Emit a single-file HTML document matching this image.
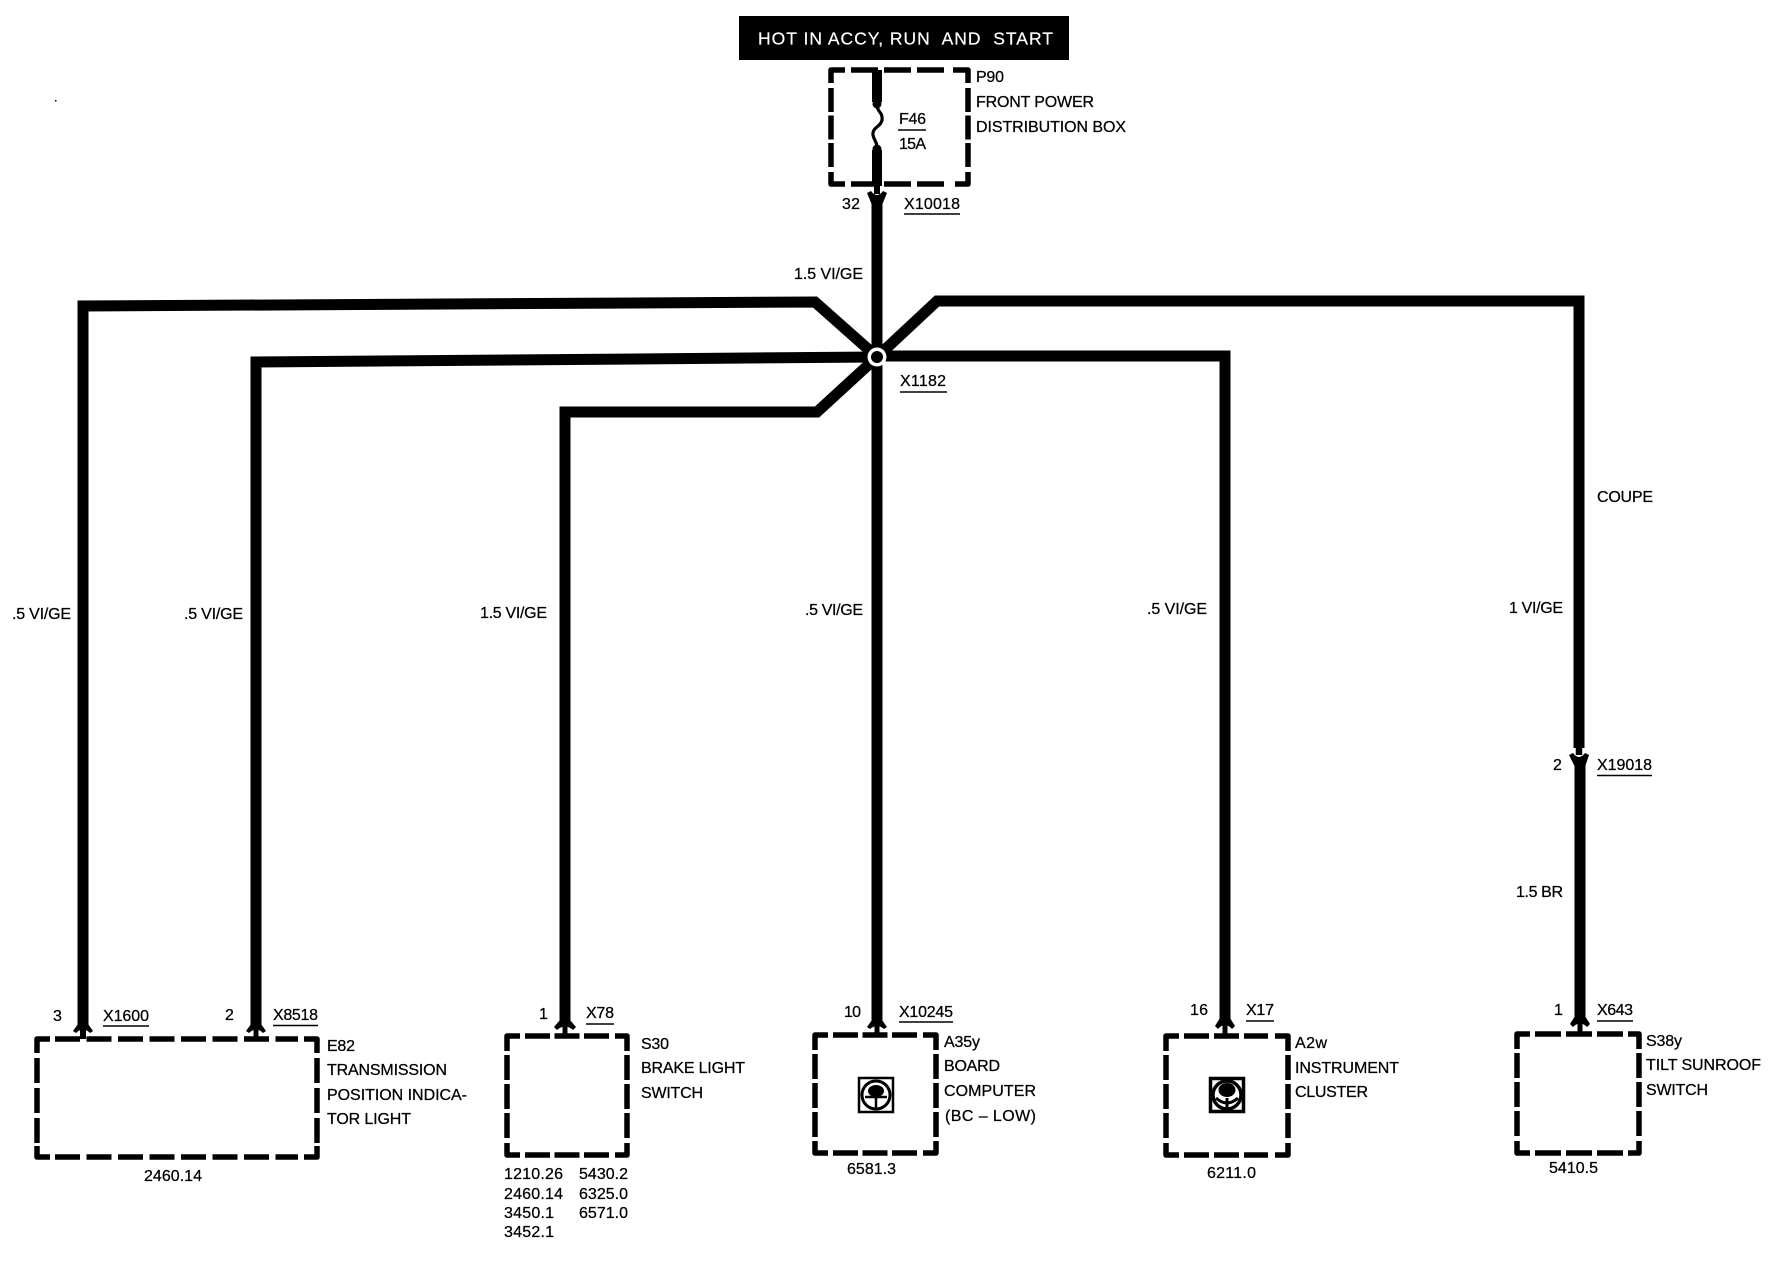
<!DOCTYPE html>
<html lang="en">
<head>
<meta charset="utf-8">
<title>Wiring diagram</title>
<style>
html,body{margin:0;padding:0;background:#fff}
svg{display:block}
text{font-family:"Liberation Sans",Arial,sans-serif;font-size:16px;fill:#000;stroke:#000;stroke-width:.25;white-space:pre;transform:translateY(-1px)}
.w{fill:none;stroke:#000;stroke-width:11;stroke-linejoin:miter}
.c{fill:none;stroke:#000;stroke-width:5.5;stroke-linejoin:round}
.u{stroke:#000;stroke-width:1.6}
</style>
</head>
<body>
<svg xmlns="http://www.w3.org/2000/svg" width="1792" height="1264" viewBox="0 0 1792 1264">
<rect width="1792" height="1264" fill="#fff"/>
<rect x="55" y="100" width="1.5" height="1.5" fill="#000"/>

<!-- header -->
<rect x="739" y="16" width="330" height="44" fill="#000"/>
<text x="758" y="45.5" textLength="295" lengthAdjust="spacing" style="font-size:17.5px;fill:#fff;stroke:#fff;stroke-width:.2">HOT IN ACCY, RUN  AND  START</text>

<!-- fuse box -->
<path class="c" d="M831 83V70H845M953 70H968V83M831 172V184H845M955 184H968V172"/>
<path class="c" stroke-dasharray="27 6" d="M851 70H947M851 184H947"/>
<path class="c" stroke-dasharray="24 3.5" d="M831 88V167M968 88V167"/>
<path d="M877 70V102" stroke="#000" stroke-width="10" fill="none"/>
<path d="M877 105C877 112 883 112 882 120C881 127 872 127 873 135C874 141 877 141 877 148" fill="none" stroke="#000" stroke-width="3.2"/>
<circle cx="877" cy="104" r="4.5"/><circle cx="877" cy="149" r="4.5"/>
<path d="M877 150V186" stroke="#000" stroke-width="10" fill="none"/>
<path d="M877 184V194" stroke="#000" stroke-width="6" fill="none"/>
<path d="M867 193L871 191Q877 199 883 191L887 193L882 205H872Z"/>

<!-- wires -->
<path class="w" d="M877 203V1022"/>
<path class="w" d="M83 1026V306L815 302L877 357"/>
<path class="w" d="M256 1026V362L877 357"/>
<path class="w" d="M565 1022V412H817L877 357"/>
<path class="w" d="M1225 1020V356L877 356"/>
<path class="w" d="M1579 748V301H937L877 357"/>
<path class="w" d="M1580 762V1018"/>
<path d="M1579 746V755" stroke="#000" stroke-width="6.5" fill="none"/>
<path d="M1569 755L1573 753Q1579 761 1585 753L1589 755L1585 767H1575Z"/>

<!-- junction -->
<circle cx="877" cy="357" r="9.5" fill="#fff"/>
<circle cx="877" cy="357" r="6"/>

<!-- connectors at the component end -->
<path d="M78 1024L73 1031L76 1033Q83 1026 90 1033L93 1031L88 1024Z"/><path d="M83 1028V1039" stroke="#000" stroke-width="6"/>
<path d="M251 1024L246 1031L249 1033Q256 1026 263 1033L266 1031L261 1024Z"/><path d="M256 1028V1039" stroke="#000" stroke-width="5"/>
<path d="M560 1020L554 1027L557 1030Q565 1023 573 1030L576 1027L570 1020Z"/><path d="M565 1025V1036" stroke="#000" stroke-width="5"/>
<path d="M872 1020L867 1027L870 1029Q877 1023 884 1029L887 1027L882 1020Z"/><path d="M877 1024V1035" stroke="#000" stroke-width="5"/>
<path d="M1220 1018L1215 1026L1218 1029Q1225 1021 1232 1029L1235 1026L1230 1018Z"/><path d="M1225 1024V1036" stroke="#000" stroke-width="5"/>
<path d="M1575 1016L1570 1024L1573 1027Q1580 1020 1587 1027L1590 1024L1585 1016Z"/><path d="M1580 1022V1034" stroke="#000" stroke-width="5"/>

<!-- E82 box -->
<path class="c" d="M37 1053V1039H50M304 1039H317V1053M37 1146V1157H50M304 1157H317V1146"/>
<path class="c" stroke-dasharray="25 6.5" d="M55 1039H298M55 1157H298"/>
<path class="c" stroke-dasharray="25 5" d="M37 1058V1143M317 1058V1143"/>
<!-- S30 box -->
<path class="c" d="M507 1051V1036H520M615 1036H627V1051M507 1143V1155H520M615 1155H627V1143"/>
<path class="c" stroke-dasharray="25 4.5" d="M525 1036H609M525 1155H609"/>
<path class="c" stroke-dasharray="25 4" d="M507 1055V1138M627 1055V1138"/>
<!-- A35y box -->
<path class="c" d="M815 1050V1035H828M923 1035H936V1050M815 1141V1153H828M923 1153H936V1141"/>
<path class="c" stroke-dasharray="25 4.5" d="M833 1035H917M833 1153H917"/>
<path class="c" stroke-dasharray="25 4" d="M815 1054V1137M936 1054V1137"/>
<!-- A2w box -->
<path class="c" d="M1166 1051V1036H1179M1275 1036H1288V1051M1166 1143V1155H1179M1275 1155H1288V1143"/>
<path class="c" stroke-dasharray="25 5" d="M1184 1036H1268M1184 1155H1268"/>
<path class="c" stroke-dasharray="25 4" d="M1166 1055V1138M1288 1055V1138"/>
<!-- S38y box -->
<path class="c" d="M1517 1049V1034H1530M1628 1034H1639V1049M1517 1141V1153H1530M1628 1153H1639V1141"/>
<path class="c" stroke-dasharray="26 5" d="M1535 1034H1623M1535 1153H1623"/>
<path class="c" stroke-dasharray="25 4" d="M1517 1053V1136M1639 1053V1136"/>

<!-- icons -->
<g fill="none" stroke="#000">
<rect x="859" y="1078" width="34" height="34" stroke-width="2.5"/>
<circle cx="876" cy="1095" r="14" stroke-width="3"/>
<path d="M865 1097H887M876 1097V1109" stroke-width="2.5"/>
<ellipse cx="876" cy="1091" rx="8" ry="6" fill="#000" stroke="none"/>
<rect x="1210.5" y="1078.5" width="33" height="33" stroke-width="3.5"/>
<circle cx="1227" cy="1095" r="14" stroke-width="3.5"/>
<path d="M1216 1098Q1227 1108 1238 1098M1227 1098V1109" stroke-width="3"/>
<ellipse cx="1227" cy="1090" rx="8.5" ry="7" fill="#000" stroke="none"/>
</g>

<!-- top labels -->
<text x="976" y="83" textLength="28" lengthAdjust="spacing">P90</text>
<text x="976" y="108" textLength="118" lengthAdjust="spacing">FRONT POWER</text>
<text x="976" y="133" textLength="150" lengthAdjust="spacing">DISTRIBUTION BOX</text>
<text x="899" y="125" textLength="27" lengthAdjust="spacing">F46</text>
<line class="u" x1="898" y1="130" x2="926" y2="130"/>
<text x="899" y="150" textLength="27" lengthAdjust="spacing">15A</text>
<text x="842" y="210" textLength="18" lengthAdjust="spacing">32</text>
<text x="904" y="210" textLength="56" lengthAdjust="spacing">X10018</text>
<line class="u" x1="904" y1="214" x2="960" y2="214"/>
<text x="794" y="280" textLength="69" lengthAdjust="spacing">1.5 VI/GE</text>
<text x="900" y="387" textLength="46" lengthAdjust="spacing">X1182</text>
<line class="u" x1="900" y1="392" x2="947" y2="392"/>

<!-- wire labels -->
<text x="12" y="620" textLength="59" lengthAdjust="spacing">.5 VI/GE</text>
<text x="184" y="620" textLength="59" lengthAdjust="spacing">.5 VI/GE</text>
<text x="480" y="619" textLength="67" lengthAdjust="spacing">1.5 VI/GE</text>
<text x="805" y="616" textLength="58" lengthAdjust="spacing">.5 VI/GE</text>
<text x="1147" y="615" textLength="60" lengthAdjust="spacing">.5 VI/GE</text>
<text x="1597" y="503" textLength="56" lengthAdjust="spacing">COUPE</text>
<text x="1509" y="614" textLength="54" lengthAdjust="spacing">1 VI/GE</text>
<text x="1553" y="771" textLength="9" lengthAdjust="spacing">2</text>
<text x="1597" y="771" textLength="55" lengthAdjust="spacing">X19018</text>
<line class="u" x1="1597" y1="775.5" x2="1652" y2="775.5"/>
<text x="1516" y="898" textLength="47" lengthAdjust="spacing">1.5 BR</text>

<!-- E82 -->
<text x="53" y="1022" textLength="9" lengthAdjust="spacing">3</text>
<text x="103" y="1022" textLength="46" lengthAdjust="spacing">X1600</text>
<line class="u" x1="103" y1="1026" x2="149" y2="1026"/>
<text x="225" y="1021" textLength="9" lengthAdjust="spacing">2</text>
<text x="273" y="1021" textLength="45" lengthAdjust="spacing">X8518</text>
<line class="u" x1="273" y1="1025.5" x2="318" y2="1025.5"/>
<text x="327" y="1052" textLength="28" lengthAdjust="spacing">E82</text>
<text x="327" y="1076" textLength="120" lengthAdjust="spacing">TRANSMISSION</text>
<text x="327" y="1101" textLength="140" lengthAdjust="spacing">POSITION INDICA-</text>
<text x="327" y="1125" textLength="84" lengthAdjust="spacing">TOR LIGHT</text>
<text x="144" y="1182" textLength="58" lengthAdjust="spacing">2460.14</text>

<!-- S30 -->
<text x="539" y="1020" textLength="7" lengthAdjust="spacing">1</text>
<text x="586" y="1019" textLength="28" lengthAdjust="spacing">X78</text>
<line class="u" x1="586" y1="1024" x2="614" y2="1024"/>
<text x="641" y="1050" textLength="28" lengthAdjust="spacing">S30</text>
<text x="641" y="1074" textLength="104" lengthAdjust="spacing">BRAKE LIGHT</text>
<text x="641" y="1099" textLength="62" lengthAdjust="spacing">SWITCH</text>
<text x="504" y="1180" textLength="59" lengthAdjust="spacing">1210.26</text>
<text x="504" y="1200" textLength="59" lengthAdjust="spacing">2460.14</text>
<text x="504" y="1219" textLength="50" lengthAdjust="spacing">3450.1</text>
<text x="504" y="1238" textLength="50" lengthAdjust="spacing">3452.1</text>
<text x="579" y="1180" textLength="49" lengthAdjust="spacing">5430.2</text>
<text x="579" y="1200" textLength="49" lengthAdjust="spacing">6325.0</text>
<text x="579" y="1219" textLength="49" lengthAdjust="spacing">6571.0</text>

<!-- A35y -->
<text x="844" y="1018" textLength="17" lengthAdjust="spacing">10</text>
<text x="899" y="1018" textLength="54" lengthAdjust="spacing">X10245</text>
<line class="u" x1="899" y1="1022" x2="953" y2="1022"/>
<text x="944" y="1048" textLength="36" lengthAdjust="spacing">A35y</text>
<text x="944" y="1072" textLength="56" lengthAdjust="spacing">BOARD</text>
<text x="944" y="1097" textLength="92" lengthAdjust="spacing">COMPUTER</text>
<text x="945" y="1122" textLength="91" lengthAdjust="spacing">(BC – LOW)</text>
<text x="847" y="1175" textLength="49" lengthAdjust="spacing">6581.3</text>

<!-- A2w -->
<text x="1190" y="1016" textLength="18" lengthAdjust="spacing">16</text>
<text x="1246" y="1016" textLength="28" lengthAdjust="spacing">X17</text>
<line class="u" x1="1246" y1="1021" x2="1274" y2="1021"/>
<text x="1295" y="1049" textLength="32" lengthAdjust="spacing">A2w</text>
<text x="1295" y="1074" textLength="104" lengthAdjust="spacing">INSTRUMENT</text>
<text x="1295" y="1098" textLength="73" lengthAdjust="spacing">CLUSTER</text>
<text x="1207" y="1179" textLength="49" lengthAdjust="spacing">6211.0</text>

<!-- S38y -->
<text x="1554" y="1016" textLength="7" lengthAdjust="spacing">1</text>
<text x="1597" y="1016" textLength="36" lengthAdjust="spacing">X643</text>
<line class="u" x1="1597" y1="1021" x2="1633" y2="1021"/>
<text x="1646" y="1047" textLength="36" lengthAdjust="spacing">S38y</text>
<text x="1646" y="1071" textLength="115" lengthAdjust="spacing">TILT SUNROOF</text>
<text x="1646" y="1096" textLength="62" lengthAdjust="spacing">SWITCH</text>
<text x="1549" y="1174" textLength="49" lengthAdjust="spacing">5410.5</text>
</svg>
</body>
</html>
